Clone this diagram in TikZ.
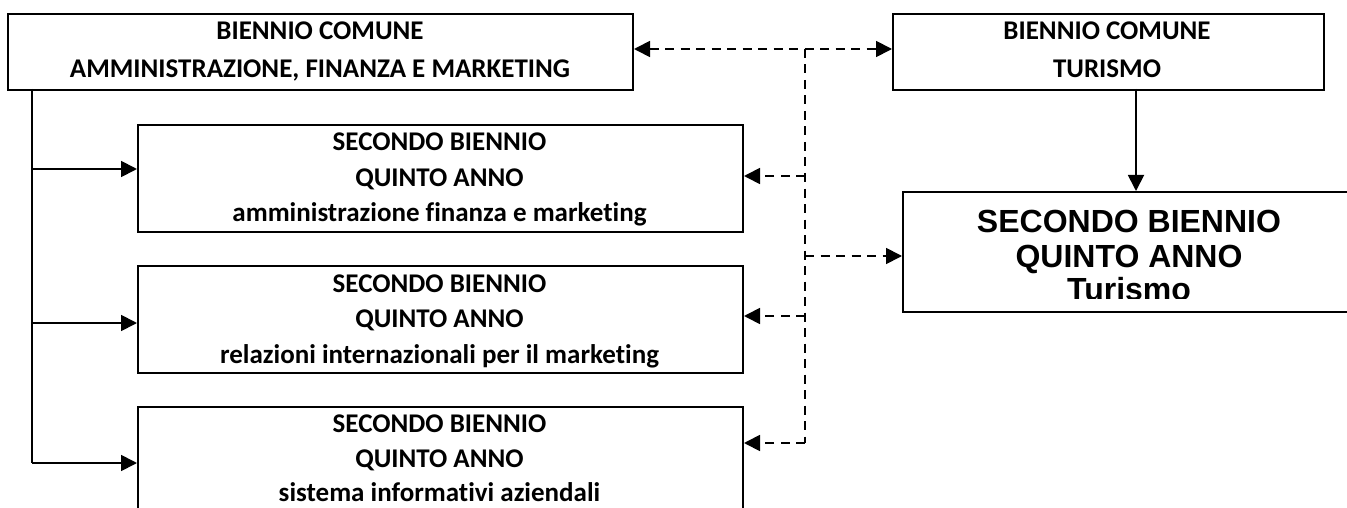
\documentclass[tikz,border=0pt]{standalone}
\usepackage{fontspec}
\newfontfamily\calfont[Ligatures=NoCommon]{Carlito}
\newfontfamily\arifont{Liberation Sans}
\usetikzlibrary{arrows.meta}
\begin{document}
\begin{tikzpicture}[x=1pt,y=-1pt,
  box/.style={draw,line width=2pt,inner sep=0pt,anchor=north west},
  txt/.style={anchor=base,inner sep=0pt,font=\calfont\bfseries\fontsize{27}{30}\selectfont},
  big/.style={anchor=base,inner sep=0pt,font=\arifont\bfseries\fontsize{32}{36}\selectfont},
  conn/.style={line width=1.8pt},
  dsh/.style={line width=1.8pt,dash pattern=on 9pt off 6.5pt},
  tip/.style={-{Triangle[length=16pt,width=16pt]}}]
\useasboundingbox (0,0) rectangle (1347,508);
\clip (0,0) rectangle (1347,508);
\fill[white] (0,0) rectangle (1347,508);
% boxes
\node[box,minimum width=625pt,minimum height=76pt] (tl) at (7,13) {};
\node[box,minimum width=431pt,minimum height=76pt] (tr) at (892,13) {};
\node[box,minimum width=605pt,minimum height=107pt] (b1) at (137,124) {};
\node[box,minimum width=605pt,minimum height=107pt] (b2) at (137,265) {};
\node[box,minimum width=605pt,minimum height=107pt] (b3) at (137,406) {};
\node[box,minimum width=458pt,minimum height=120pt] (br) at (902,191) {};
% texts
\node[txt] (tl1) at (320,40) {BIENNIO COMUNE};
\node[txt] (tl2) at (320,78) {AMMINISTRAZIONE, FINANZA E MARKETING};
\node[txt] (tr1) at (1107,40) {BIENNIO COMUNE};
\node[txt] (tr2) at (1107,78) {TURISMO};
\node[txt] (b1a) at (439.5,151) {SECONDO BIENNIO};
\node[txt] (b1b) at (439.5,186) {QUINTO ANNO};
\node[txt] (b1c) at (439.5,222) {amministrazione finanza e marketing};
\node[txt] (b2a) at (439.5,292) {SECONDO BIENNIO};
\node[txt] (b2b) at (439.5,327) {QUINTO ANNO};
\node[txt] (b2c) at (439.5,363) {relazioni internazionali per il marketing};
\node[txt] (b3a) at (439.5,432) {SECONDO BIENNIO};
\node[txt] (b3b) at (439.5,467) {QUINTO ANNO};
\node[txt] (b3c) at (439.5,501) {sistema informativi aziendali};
\node[big] (br1) at (1129,232) {SECONDO BIENNIO};
\node[big] (br2) at (1129,267) {QUINTO ANNO};
\begin{scope}
\clip (902,191) rectangle (1347,298);
\node[big] (br3) at (1129,300) {Turismo};
\end{scope}
% solid connectors
\coordinate (s0) at (32,89);
\coordinate (s1) at (32,169);
\coordinate (s2) at (32,323);
\coordinate (s3) at (32,463);
\draw[conn] (s0) -- (s3);
\draw[conn,tip] (s1) -- (s1 -| b1.west);
\draw[conn,tip] (s2) -- (s2 -| b2.west);
\draw[conn,tip] (s3) -- (s3 -| b3.west);
\coordinate (v0) at (1136,89);
\draw[conn,tip] (v0) -- (v0 |- br.north);
% dashed connectors
\coordinate (d0) at (805,49);
\coordinate (d1) at (805,176);
\coordinate (dr) at (805,256);
\coordinate (d2) at (805,316);
\coordinate (d3) at (805,443);
\draw[dsh,{Triangle[length=16pt,width=16pt]}-{Triangle[length=16pt,width=16pt]}] (d0 -| tl.east) -- (d0 -| tr.west);
\draw[dsh] (d0) -- (d3);
\draw[dsh,tip] (d1) -- (d1 -| b1.east);
\draw[dsh,tip] (d2) -- (d2 -| b2.east);
\draw[dsh,tip] (d3) -- (d3 -| b3.east);
\draw[dsh,tip] (dr) -- (dr -| br.west);
\end{tikzpicture}
\end{document}
